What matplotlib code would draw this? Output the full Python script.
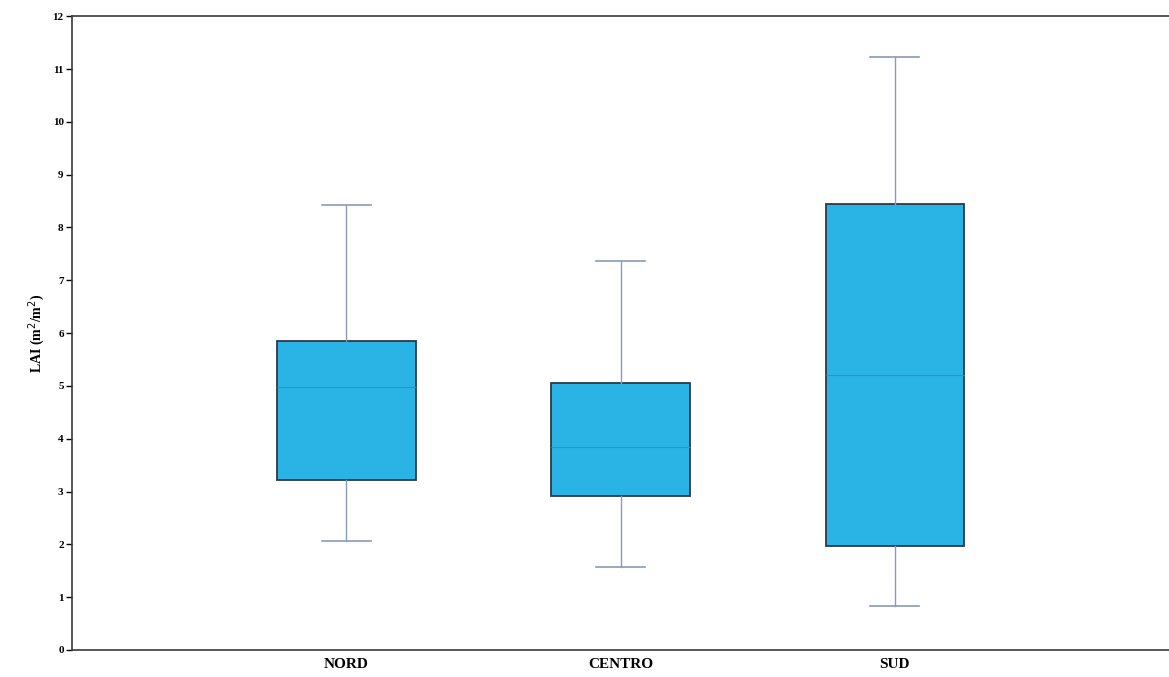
import matplotlib.pyplot as plt

# LAI by area
regioni = ['NORD', 'CENTRO', 'SUD']
minimi = [2.06, 1.57, 0.83]
q1 = [3.22, 2.92, 1.97]
mediane = [4.98, 3.85, 5.2]
q3 = [5.85, 5.06, 8.45]
massimi = [8.43, 7.37, 11.23]

plt.rcParams['font.family'] = ['Liberation Serif', 'DejaVu Serif']

fig = plt.figure(figsize=(11.69, 6.77), dpi=100)
ax = fig.add_axes([0.0616, 0.04, 0.9384, 0.936])

stats = []
for i in range(len(regioni)):
    stats.append({'label': regioni[i], 'whislo': minimi[i], 'q1': q1[i],
                  'med': mediane[i], 'q3': q3[i], 'whishi': massimi[i]})

ax.bxp(stats, positions=[1, 2, 3], widths=0.505, patch_artist=True,
       showfliers=False,
       boxprops=dict(facecolor='#2ab4e6', edgecolor='#2a3a48', linewidth=1.3),
       medianprops=dict(color='#2f95c0', linewidth=0.9),
       whiskerprops=dict(color='#8a9ab8', linewidth=1.0),
       capprops=dict(color='#8a9ab8', linewidth=1.2), capwidths=0.18)

ax.set_xlim(0, 4)
ax.set_ylim(0, 12)
ax.set_yticks(range(0, 13))
ax.tick_params(axis='y', labelsize=8, length=4, width=1, pad=2)
ax.tick_params(axis='x', length=0, labelsize=11, pad=6)
for lab in ax.get_xticklabels() + ax.get_yticklabels():
    lab.set_fontweight('bold')
ax.spines['right'].set_visible(False)
for s in ['top', 'bottom', 'left']:
    ax.spines[s].set_color('#3a3a3a')
    ax.spines[s].set_linewidth(1.2)

ax.set_ylabel('LAI (m$^2$/m$^2$)', fontsize=10, fontweight='bold', labelpad=4)

fig.savefig('out.png', dpi=100)
